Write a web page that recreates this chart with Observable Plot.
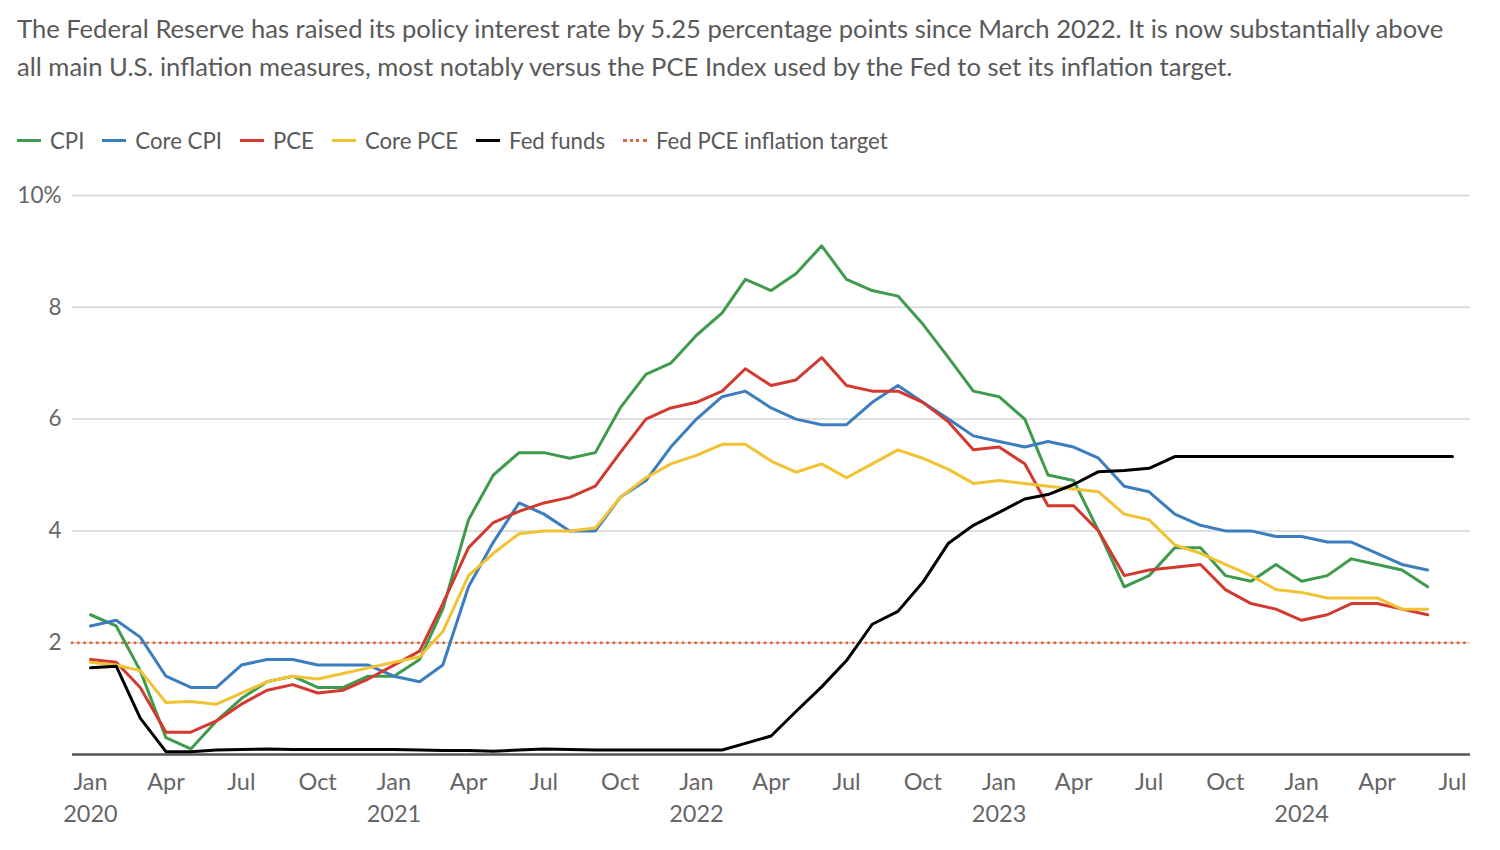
<!DOCTYPE html>
<html>
<head>
<meta charset="utf-8">
<script src="https://cdn.jsdelivr.net/npm/d3@7"></script>
<script src="https://cdn.jsdelivr.net/npm/@observablehq/plot@0.6"></script>
<style>
  html, body { margin: 0; padding: 0; background: #fff; width: 1500px; height: 850px; overflow: hidden; }
  body { position: relative; font-family: Lato, "Open Sans", sans-serif; color: #555; }
  #title { position: absolute; left: 17px; top: 9px; font-size: 25.6px; line-height: 38px; color: #595959; white-space: nowrap; }
  #legend { position: absolute; left: 17px; top: 127px; font-size: 22.2px; color: #595959; display: flex; align-items: center; white-space: nowrap; }
  .item { display: flex; align-items: center; margin-right: 18px; }
  .sw { width: 24px; height: 0; border-top: 3px solid; margin-right: 9px; }
  .sw.dot { border-top: 3px dotted; }
  #chart { position: absolute; left: 0; top: 170px; }
</style>
</head>
<body>
<div id="title">The Federal Reserve has raised its policy interest rate by 5.25 percentage points since March 2022. It is now substantially above<br>all main U.S. inflation measures, most notably versus the PCE Index used by the Fed to set its inflation target.</div>
<div id="legend"></div>
<div id="chart"></div>
<script>
// Monthly values, Jan 2020 – Jun 2024 (inflation), Jan 2020 – Jul 2024 (Fed funds)
const cpi = [
  2.5, 2.3, 1.5, 0.3, 0.1, 0.6, 1.0, 1.3, 1.4, 1.2, 1.2, 1.4,
  1.4, 1.7, 2.6, 4.2, 5.0, 5.4, 5.4, 5.3, 5.4, 6.2, 6.8, 7.0,
  7.5, 7.9, 8.5, 8.3, 8.6, 9.1, 8.5, 8.3, 8.2, 7.7, 7.1, 6.5,
  6.4, 6.0, 5.0, 4.9, 4.0, 3.0, 3.2, 3.7, 3.7, 3.2, 3.1, 3.4,
  3.1, 3.2, 3.5, 3.4, 3.3, 3.0
];
const coreCpi = [
  2.3, 2.4, 2.1, 1.4, 1.2, 1.2, 1.6, 1.7, 1.7, 1.6, 1.6, 1.6,
  1.4, 1.3, 1.6, 3.0, 3.8, 4.5, 4.3, 4.0, 4.0, 4.6, 4.9, 5.5,
  6.0, 6.4, 6.5, 6.2, 6.0, 5.9, 5.9, 6.3, 6.6, 6.3, 6.0, 5.7,
  5.6, 5.5, 5.6, 5.5, 5.3, 4.8, 4.7, 4.3, 4.1, 4.0, 4.0, 3.9,
  3.9, 3.8, 3.8, 3.6, 3.4, 3.3
];
const pce = [
  1.7, 1.65, 1.2, 0.4, 0.4, 0.6, 0.9, 1.15, 1.25, 1.1, 1.15, 1.35,
  1.6, 1.85, 2.7, 3.7, 4.15, 4.35, 4.5, 4.6, 4.8, 5.4, 6.0, 6.2,
  6.3, 6.5, 6.9, 6.6, 6.7, 7.1, 6.6, 6.5, 6.5, 6.3, 5.95, 5.45,
  5.5, 5.2, 4.45, 4.45, 4.0, 3.2, 3.3, 3.35, 3.4, 2.95, 2.7, 2.6,
  2.4, 2.5, 2.7, 2.7, 2.6, 2.5
];
const corePce = [
  1.65, 1.6, 1.5, 0.93, 0.95, 0.9, 1.1, 1.3, 1.4, 1.35, 1.45, 1.55,
  1.65, 1.75, 2.2, 3.2, 3.6, 3.95, 4.0, 4.0, 4.05, 4.6, 4.95, 5.2,
  5.35, 5.55, 5.55, 5.25, 5.05, 5.2, 4.95, 5.2, 5.45, 5.3, 5.1, 4.85,
  4.9, 4.85, 4.8, 4.75, 4.7, 4.3, 4.2, 3.75, 3.6, 3.4, 3.2, 2.95,
  2.9, 2.8, 2.8, 2.8, 2.6, 2.6
];
const fedFunds = [
  1.55, 1.58, 0.65, 0.05, 0.05, 0.08, 0.09, 0.10, 0.09, 0.09, 0.09, 0.09,
  0.09, 0.08, 0.07, 0.07, 0.06, 0.08, 0.10, 0.09, 0.08, 0.08, 0.08, 0.08,
  0.08, 0.08, 0.20, 0.33, 0.77, 1.21, 1.68, 2.33, 2.56, 3.08, 3.78, 4.10,
  4.33, 4.57, 4.65, 4.83, 5.06, 5.08, 5.12, 5.33, 5.33, 5.33, 5.33, 5.33,
  5.33, 5.33, 5.33, 5.33, 5.33, 5.33, 5.33
];
const pceTarget = [2];
const yTicks = [2, 4, 6, 8, 10];
const seriesNames = ["CPI", "Core CPI", "PCE", "Core PCE", "Fed funds"];
const seriesColors = ["#3f9b4c", "#3b7dbf", "#d23a30", "#f1c232", "#000000"];
const targetName = "Fed PCE inflation target";
const targetColor = "#e2673f";

const startMonth = new Date(Date.UTC(2020, 0, 1));
const endMonth = new Date(Date.UTC(2024, 6, 1));
const months = d3.utcMonth.range(startMonth, d3.utcMonth.offset(endMonth, 1));
const seriesValues = [cpi, coreCpi, pce, corePce, fedFunds];
const rows = seriesValues.flatMap((vals, k) =>
  vals.map((v, i) => ({date: months[i], value: v, series: seriesNames[k]})));

// legend
const legend = document.getElementById("legend");
seriesNames.forEach((n, k) => {
  const it = document.createElement("div"); it.className = "item";
  it.innerHTML = `<span class="sw" style="border-color:${seriesColors[k]}"></span><span>${n}</span>`;
  legend.appendChild(it);
});
{
  const it = document.createElement("div"); it.className = "item";
  it.innerHTML = `<span class="sw dot" style="border-color:${targetColor}"></span><span>${targetName}</span>`;
  legend.appendChild(it);
}

const monthFmt = d3.utcFormat("%b");
const yearFmt = d3.utcFormat("%Y");

const chart = Plot.plot({
  width: 1500,
  height: 680,
  marginTop: 25,
  marginBottom: 96,
  marginLeft: 72,
  marginRight: 30,
  style: {fontFamily: "Lato, 'Open Sans', sans-serif", fontSize: "22px", color: "#666", background: "#fff"},
  x: {type: "utc", domain: [startMonth, endMonth], range: [90, 1452]},
  y: {domain: [0, 10], range: [584, 25]},
  color: {domain: seriesNames, range: seriesColors},
  marks: [
    Plot.ruleY(yTicks, {stroke: "#d4d4d4", strokeWidth: 1.5}),
    Plot.axisY({ticks: yTicks, tickSize: 0, tickPadding: 11, tickFormat: d => d === 10 ? "10%" : String(d), fill: "#666", fontSize: 22.5, label: null}),
    Plot.ruleY(pceTarget, {stroke: targetColor, strokeWidth: 3, strokeDasharray: "0.1,6.2", strokeLinecap: "round"}),
    Plot.ruleY([0], {stroke: "#555", strokeWidth: 2.5}),
    Plot.line(rows, {x: "date", y: "value", z: "series", stroke: "series", strokeWidth: 3, strokeLinejoin: "round"}),
    Plot.axisX({ticks: d3.utcMonth.every(3), tickSize: 0, tickPadding: 19, tickFormat: monthFmt, fill: "#666", fontSize: 23.5, label: null}),
    Plot.axisX({ticks: d3.utcYear.every(1), tickSize: 0, tickPadding: 51, tickFormat: yearFmt, fill: "#666", fontSize: 23.5, label: null})
  ]
});
document.getElementById("chart").appendChild(chart);
</script>
</body>
</html>
